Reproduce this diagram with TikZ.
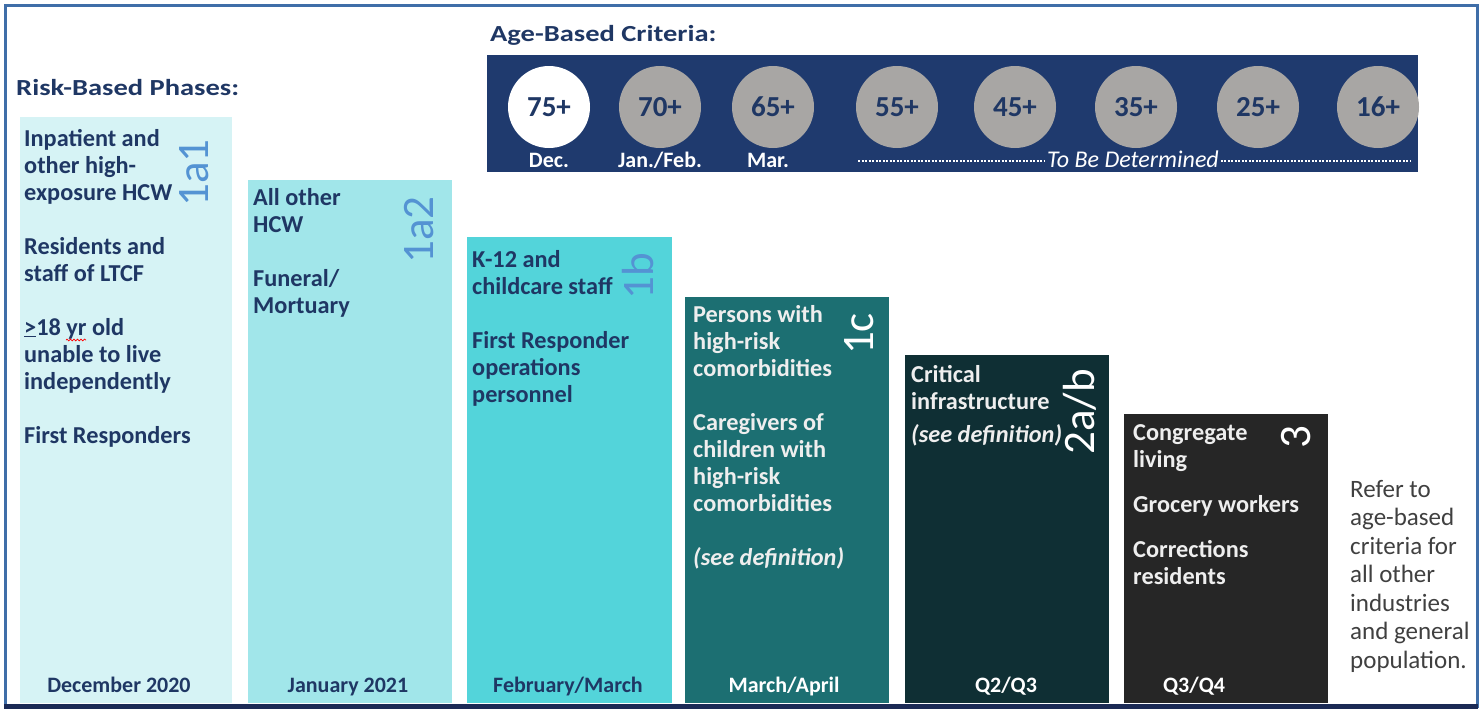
\documentclass[tikz,border=0pt]{standalone}
\usepackage{fontspec}
\setmainfont{Carlito}
\newfontfamily\stretchfont{Carlito}[FakeStretch=1.24]
\usetikzlibrary{decorations.pathmorphing}

\definecolor{frameblue}{HTML}{3F6EA8}
\definecolor{navy}{HTML}{1F3764}
\definecolor{panelnavy}{HTML}{1F3A6E}
\definecolor{bottomnavy}{HTML}{1B2A55}
\definecolor{barA}{HTML}{D6F3F5}
\definecolor{barB}{HTML}{A1E6EA}
\definecolor{barC}{HTML}{53D4DA}
\definecolor{barD}{HTML}{1C6F72}
\definecolor{barE}{HTML}{0F2F34}
\definecolor{barF}{HTML}{262626}
\definecolor{phaseblue}{HTML}{5493D3}
\definecolor{circgray}{HTML}{A8A6A4}
\definecolor{lighttext}{HTML}{EEEEEE}
\definecolor{greytext}{HTML}{404040}

\newcommand{\fls}{\rule{0pt}{18pt}}

\tikzset{
  barbox/.style={draw=none, inner sep=0pt, outer sep=0pt, anchor=north west},
  bodytext/.style={anchor=north west, inner sep=0pt, align=left,
    font=\bfseries\fontsize{24.3}{27}\selectfont},
  datelabel/.style={anchor=base, inner sep=0pt, font=\bfseries\fontsize{22}{26}\selectfont},
  phaselabel/.style={anchor=base, inner sep=0pt, rotate=90, font=\fontsize{45}{45}\selectfont},
  agecircle/.style={circle, inner sep=0pt, minimum size=82pt, fill=circgray,
    text=navy, font=\bfseries\fontsize{29}{30}\selectfont},
  agedate/.style={anchor=base, inner sep=0pt, text=white, font=\bfseries\fontsize{22}{26}\selectfont},
  titletext/.style={anchor=base west, inner sep=0pt, text=navy, font=\stretchfont\bfseries\fontsize{23}{27}\selectfont},
  tbdline/.style={draw=white, line width=1.2pt, dash pattern=on 2pt off 1.5pt}
}

\begin{document}
\begin{tikzpicture}[x=1pt,y=-1pt]
\useasboundingbox (0,0) rectangle (1483,710);
\fill[white] (0,0) rectangle (1483,710);

% titles
\node[titletext] (rbtitle) at (16,95) {Risk-Based Phases:};
\node[titletext] (abtitle) at (490,41) {Age-Based Criteria:};

% age panel
\node[barbox, fill=panelnavy, minimum width=931pt, minimum height=117pt] (panel) at (487,55) {};
\node[agecircle, fill=white] (c75) at (549,107) {75+};
\node[agecircle] (c70) at (660,107) {70+};
\node[agecircle] (c65) at (773,107) {65+};
\node[agecircle] (c55) at (897,107) {55+};
\node[agecircle] (c45) at (1015,107) {45+};
\node[agecircle] (c35) at (1136,107) {35+};
\node[agecircle] (c25) at (1258,107) {25+};
\node[agecircle] (c16) at (1378,107) {16+};
\node[agedate] (dDec) at (549,167) {Dec.};
\node[agedate] (dJan) at (660,167) {Jan./Feb.};
\node[agedate] (dMar) at (768,167) {Mar.};
\node[anchor=base, inner sep=2pt, text=white, font=\itshape\fontsize{24}{27}\selectfont] (tbd) at (1133,167) {To Be Determined};
\coordinate (tbdL) at (858,161);
\coordinate (tbdR) at (1410,161);
\draw[tbdline] (tbdL) -- (tbdL -| tbd.west);
\draw[tbdline] (tbdR -| tbd.east) -- (tbdR);

% bars
\node[barbox, fill=barA, minimum width=212pt, minimum height=586pt] (b1) at (20,117) {};
\node[barbox, fill=barB, minimum width=204pt, minimum height=523pt] (b2) at (248,180) {};
\node[barbox, fill=barC, minimum width=205pt, minimum height=466pt] (b3) at (467,237) {};
\node[barbox, fill=barD, minimum width=204pt, minimum height=406pt] (b4) at (685,297) {};
\node[barbox, fill=barE, minimum width=204pt, minimum height=348pt] (b5) at (905,355) {};
\node[barbox, fill=barF, minimum width=204pt, minimum height=289pt] (b6) at (1124,414) {};

% frame
\draw[frameblue, line width=3pt] (5,5) rectangle (1477,706);
\draw[bottomnavy, line width=5pt] (4,706) -- (1478,706);

% phase labels
\node[phaselabel, text=phaseblue] (p1) at (208,173) {1a1};
\node[phaselabel, text=phaseblue] (p2) at (433,230) {1a2};
\node[phaselabel, text=phaseblue] (p3) at (653,276) {1b};
\node[phaselabel, text=white] (p4) at (873,334) {1c};
\node[phaselabel, text=white] (p5) at (1094,412) {2a/b};
\node[phaselabel, text=white] (p6) at (1310,437) {3};

% bar texts
\node[bodytext, text=navy] (t1) at (24,128) {\fls Inpatient and\\other high-\\exposure HCW\\[27pt]Residents and\\staff of LTCF\\[27pt]\underline{>}18 yr old\\unable to live\\independently\\[27pt]First Responders};
\draw[red, line width=0.7pt, decorate, decoration={snake, amplitude=0.9pt, segment length=3.5pt}] (66,340) -- (86,340);
\node[bodytext, text=navy] (t2) at (253,187) {\fls All other\\HCW\\[27pt]Funeral/\\Mortuary};
\node[bodytext, text=navy] (t3) at (472,249) {\fls K-12 and\\childcare staff\\[27pt]First Responder\\operations\\personnel};
\node[bodytext, text=lighttext] (t4) at (693,304) {\fls Persons with\\high-risk\\comorbidities\\[27pt]Caregivers of\\children with\\high-risk\\comorbidities\\[27pt]\textit{(see definition)}};
\node[bodytext, text=lighttext] (t5) at (911,364) {\fls Critical\\infrastructure\\[6pt]\textit{(see definition)}};
\node[bodytext, text=lighttext] (t6) at (1133,422) {\fls Congregate\\living\\[18pt]Grocery workers\\[18pt]Corrections\\residents};

% right text
\node[anchor=north west, inner sep=0pt, align=left, text=greytext, font=\fontsize{25}{28.5}\selectfont] (t7) at (1350,479) {\fls Refer to\\age-based\\criteria for\\all other\\industries\\and general\\population.};

% date labels
\node[datelabel, text=navy] (d1) at (119,692) {December 2020};
\node[datelabel, text=navy] (d2) at (348,692) {January 2021};
\node[datelabel, text=navy] (d3) at (568,692) {February/March};
\node[datelabel, text=white] (d4) at (784,692) {March/April};
\node[datelabel, text=white] (d5) at (1006,692) {Q2/Q3};
\node[datelabel, text=white] (d6) at (1194,692) {Q3/Q4};
\end{tikzpicture}
\end{document}
